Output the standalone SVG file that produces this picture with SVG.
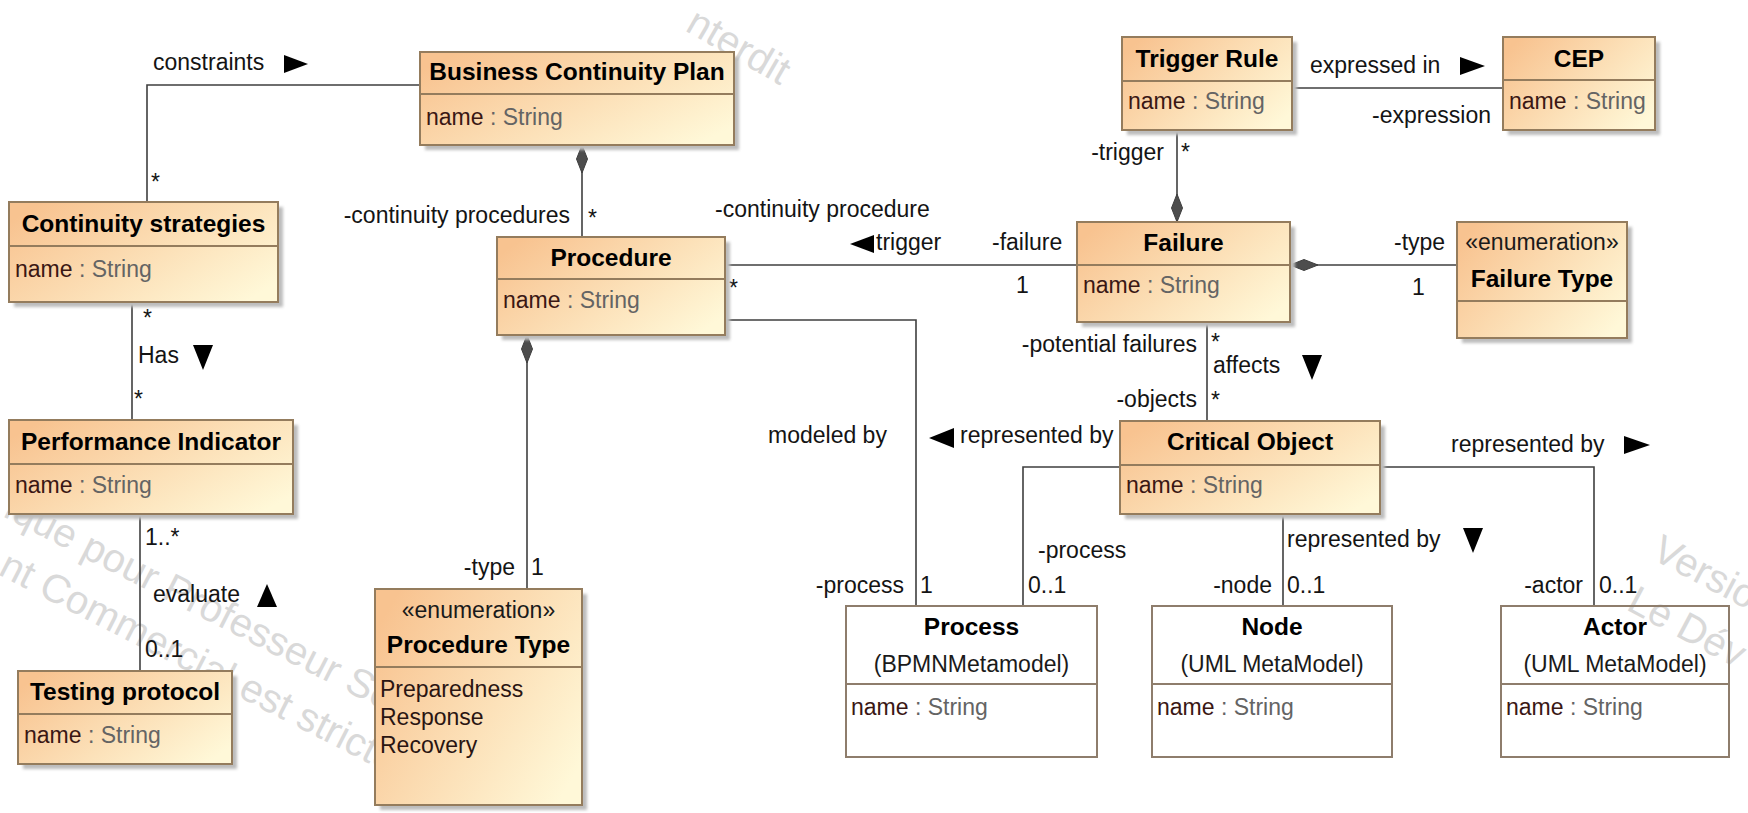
<svg xmlns="http://www.w3.org/2000/svg" width="1748" height="813" viewBox="0 0 1748 813">
  <defs>
    <linearGradient id="classFill" x1="0" y1="0.2" x2="1" y2="0.8">
      <stop offset="0" stop-color="#F8C390"/>
      <stop offset="1" stop-color="#FFF8D8"/>
    </linearGradient>
    <filter id="soft" x="-5%" y="-5%" width="110%" height="110%">
      <feGaussianBlur stdDeviation="1.8"/>
    </filter>
  </defs>
  <style>
    text { font-family: "Liberation Sans", Arial, sans-serif; font-size: 23px; fill: #141414; }
    .title { font-weight: bold; font-size: 24.5px; fill: #000; text-anchor: middle; }
    .sub { text-anchor: middle; fill: #1a1a1a; }
    .stereo { text-anchor: middle; fill: #1a1a1a; }
    .an { fill: #3a1714; }
    .at { fill: #646464; }
    .lit { fill: #2a1512; }
    .end { text-anchor: end; }
    .box { fill: url(#classFill); stroke: #947c5d; stroke-width: 2; }
    .ext { fill: none; stroke: #8e7d6c; stroke-width: 2; }
    .sep { stroke: #947c5d; stroke-width: 2; }
    .extsep { stroke: #8e7d6c; stroke-width: 2; }
    .shadow { fill: #bdbdbd; filter: url(#soft); }
    .edge { fill: none; stroke: #3f3f3f; stroke-width: 1.6; }
    .dia { fill: #4d4d4d; stroke: #3f3f3f; stroke-width: 1; }
    .tri { fill: #000; }
    .wm { font-size: 40px; fill: #d9d9d9; }
  </style>
  <rect width="1748" height="813" fill="#fff"/>

  <!-- faint background watermark -->
  <g id="watermark">
    <text class="wm" transform="translate(684,30) rotate(30)">nterdit</text>
    <text class="wm" transform="translate(2,516) rotate(27)">ique pour Professeur Se</text>
    <text class="wm" transform="translate(-3,574) rotate(27)">nt Commercial est strictem</text>
    <text class="wm" transform="translate(1650,558) rotate(28)">Version</text>
    <text class="wm" transform="translate(1625,609) rotate(28)">Le Dév</text>
  </g>

  <!-- associations -->
  <g id="connectors">
    <path class="edge" d="M420,85 H147 V202"/>
    <path class="edge" d="M582,145 V237"/>
    <path class="edge" d="M132,302 V420"/>
    <path class="edge" d="M140,514 V671"/>
    <path class="edge" d="M527,335 V589"/>
    <path class="edge" d="M725,265 H1077"/>
    <path class="edge" d="M725,320 H916 V606"/>
    <path class="edge" d="M1177,130 V222"/>
    <path class="edge" d="M1292,88 H1503"/>
    <path class="edge" d="M1290,265 H1457"/>
    <path class="edge" d="M1207,322 V421"/>
    <path class="edge" d="M1120,467 H1023 V606"/>
    <path class="edge" d="M1283,514 V606"/>
    <path class="edge" d="M1380,467 H1594 V606"/>

    <!-- composition diamonds -->
    <polygon class="dia" points="582,145 587.5,159 582,173 576.5,159"/>
    <polygon class="dia" points="527,335 532.5,349 527,363 521.5,349"/>
    <polygon class="dia" points="1177,222 1182.5,208 1177,194 1171.5,208"/>
    <polygon class="dia" points="1290,265 1304,259.5 1318,265 1304,270.5"/>

    <!-- reading-direction arrows -->
    <polygon class="tri" points="284,55 308,64 284,73"/>
    <polygon class="tri" points="193,345 213,345 203,370"/>
    <polygon class="tri" points="257,607 277,607 267,584"/>
    <polygon class="tri" points="850,244 874,235 874,253"/>
    <polygon class="tri" points="1460,57 1485,66 1460,75"/>
    <polygon class="tri" points="929,438 954,428 954,448"/>
    <polygon class="tri" points="1624,436 1650,445 1624,454"/>
    <polygon class="tri" points="1463,528 1483,528 1473,553"/>
    <polygon class="tri" points="1302,355 1322,355 1312,380"/>

    <!-- association names, roles, multiplicities -->
    <text x="153" y="70">constraints</text>
    <text x="151" y="190">*</text>
    <text class="end" x="570" y="223">-continuity procedures</text>
    <text x="588" y="226">*</text>
    <text x="143" y="326">*</text>
    <text x="138" y="363">Has</text>
    <text x="134" y="407">*</text>
    <text x="145" y="545">1..*</text>
    <text x="153" y="602">evaluate</text>
    <text x="145" y="657">0..1</text>
    <text class="end" x="515" y="575">-type</text>
    <text x="531" y="575">1</text>
    <text x="715" y="217">-continuity procedure</text>
    <text x="876" y="250">trigger</text>
    <text x="992" y="250">-failure</text>
    <text x="729" y="296">*</text>
    <text x="1016" y="293">1</text>
    <text x="768" y="443">modeled by</text>
    <text class="end" x="904" y="593">-process</text>
    <text x="920" y="593">1</text>
    <text class="end" x="1164" y="160">-trigger</text>
    <text x="1181" y="160">*</text>
    <text x="1310" y="73">expressed in</text>
    <text class="end" x="1491" y="123">-expression</text>
    <text x="1394" y="250">-type</text>
    <text x="1412" y="295">1</text>
    <text class="end" x="1197" y="352">-potential failures</text>
    <text x="1211" y="350">*</text>
    <text x="1213" y="373">affects</text>
    <text class="end" x="1197" y="407">-objects</text>
    <text x="1211" y="408">*</text>
    <text x="960" y="443">represented by</text>
    <text x="1038" y="558">-process</text>
    <text x="1028" y="593">0..1</text>
    <text x="1287" y="547">represented by</text>
    <text class="end" x="1272" y="593">-node</text>
    <text x="1287" y="593">0..1</text>
    <text x="1451" y="452">represented by</text>
    <text class="end" x="1583" y="593">-actor</text>
    <text x="1599" y="593">0..1</text>
  </g>

  <!-- classes -->
  <g id="business-continuity-plan">
    <rect class="shadow" x="425" y="57" width="314" height="93"/>
    <rect class="box" x="420" y="52" width="314" height="93"/>
    <line class="sep" x1="420" y1="94" x2="734" y2="94"/>
    <text class="title" x="577" y="80">Business Continuity Plan</text>
    <text x="426" y="125"><tspan class="an">name</tspan><tspan class="at"> : String</tspan></text>
  </g>

  <g id="continuity-strategies">
    <rect class="shadow" x="14" y="207" width="269" height="100"/>
    <rect class="box" x="9" y="202" width="269" height="100"/>
    <line class="sep" x1="9" y1="246" x2="278" y2="246"/>
    <text class="title" x="143.5" y="232">Continuity strategies</text>
    <text x="15" y="277"><tspan class="an">name</tspan><tspan class="at"> : String</tspan></text>
  </g>

  <g id="performance-indicator">
    <rect class="shadow" x="14" y="425" width="284" height="94"/>
    <rect class="box" x="9" y="420" width="284" height="94"/>
    <line class="sep" x1="9" y1="464" x2="293" y2="464"/>
    <text class="title" x="151" y="450">Performance Indicator</text>
    <text x="15" y="493"><tspan class="an">name</tspan><tspan class="at"> : String</tspan></text>
  </g>

  <g id="testing-protocol">
    <rect class="shadow" x="23" y="676" width="214" height="93"/>
    <rect class="box" x="18" y="671" width="214" height="93"/>
    <line class="sep" x1="18" y1="714" x2="232" y2="714"/>
    <text class="title" x="125" y="700">Testing protocol</text>
    <text x="24" y="743"><tspan class="an">name</tspan><tspan class="at"> : String</tspan></text>
  </g>

  <g id="procedure">
    <rect class="shadow" x="502" y="242" width="228" height="98"/>
    <rect class="box" x="497" y="237" width="228" height="98"/>
    <line class="sep" x1="497" y1="279" x2="725" y2="279"/>
    <text class="title" x="611" y="266">Procedure</text>
    <text x="503" y="308"><tspan class="an">name</tspan><tspan class="at"> : String</tspan></text>
  </g>

  <g id="procedure-type">
    <rect class="shadow" x="380" y="594" width="207" height="216"/>
    <rect class="box" x="375" y="589" width="207" height="216"/>
    <text class="stereo" x="478.5" y="618">«enumeration»</text>
    <text class="title" x="478.5" y="653">Procedure Type</text>
    <line class="sep" x1="375" y1="667" x2="582" y2="667"/>
    <text class="lit" x="380" y="697">Preparedness</text>
    <text class="lit" x="380" y="725">Response</text>
    <text class="lit" x="380" y="753">Recovery</text>
  </g>

  <g id="trigger-rule">
    <rect class="shadow" x="1127" y="42" width="170" height="93"/>
    <rect class="box" x="1122" y="37" width="170" height="93"/>
    <line class="sep" x1="1122" y1="81" x2="1292" y2="81"/>
    <text class="title" x="1207" y="67">Trigger Rule</text>
    <text x="1128" y="109"><tspan class="an">name</tspan><tspan class="at"> : String</tspan></text>
  </g>

  <g id="cep">
    <rect class="shadow" x="1508" y="42" width="152" height="93"/>
    <rect class="box" x="1503" y="37" width="152" height="93"/>
    <line class="sep" x1="1503" y1="80" x2="1655" y2="80"/>
    <text class="title" x="1579" y="67">CEP</text>
    <text x="1509" y="109"><tspan class="an">name</tspan><tspan class="at"> : String</tspan></text>
  </g>

  <g id="failure">
    <rect class="shadow" x="1082" y="227" width="213" height="100"/>
    <rect class="box" x="1077" y="222" width="213" height="100"/>
    <line class="sep" x1="1077" y1="265" x2="1290" y2="265"/>
    <text class="title" x="1183.5" y="251">Failure</text>
    <text x="1083" y="293"><tspan class="an">name</tspan><tspan class="at"> : String</tspan></text>
  </g>

  <g id="failure-type">
    <rect class="shadow" x="1462" y="227" width="170" height="116"/>
    <rect class="box" x="1457" y="222" width="170" height="116"/>
    <text class="stereo" x="1542" y="250">«enumeration»</text>
    <text class="title" x="1542" y="287">Failure Type</text>
    <line class="sep" x1="1457" y1="301" x2="1627" y2="301"/>
  </g>

  <g id="critical-object">
    <rect class="shadow" x="1125" y="426" width="260" height="93"/>
    <rect class="box" x="1120" y="421" width="260" height="93"/>
    <line class="sep" x1="1120" y1="465" x2="1380" y2="465"/>
    <text class="title" x="1250" y="450">Critical Object</text>
    <text x="1126" y="493"><tspan class="an">name</tspan><tspan class="at"> : String</tspan></text>
  </g>

  <g id="process">
    <rect class="ext" x="846" y="606" width="251" height="151"/>
    <text class="title" x="971.5" y="635">Process</text>
    <text class="sub" x="971.5" y="672">(BPMNMetamodel)</text>
    <line class="extsep" x1="846" y1="684" x2="1097" y2="684"/>
    <text x="851" y="715"><tspan class="an">name</tspan><tspan class="at"> : String</tspan></text>
  </g>

  <g id="node">
    <rect class="ext" x="1152" y="606" width="240" height="151"/>
    <text class="title" x="1272" y="635">Node</text>
    <text class="sub" x="1272" y="672">(UML MetaModel)</text>
    <line class="extsep" x1="1152" y1="684" x2="1392" y2="684"/>
    <text x="1157" y="715"><tspan class="an">name</tspan><tspan class="at"> : String</tspan></text>
  </g>

  <g id="actor">
    <rect class="ext" x="1501" y="606" width="228" height="151"/>
    <text class="title" x="1615" y="635">Actor</text>
    <text class="sub" x="1615" y="672">(UML MetaModel)</text>
    <line class="extsep" x1="1501" y1="684" x2="1729" y2="684"/>
    <text x="1506" y="715"><tspan class="an">name</tspan><tspan class="at"> : String</tspan></text>
  </g>
</svg>
